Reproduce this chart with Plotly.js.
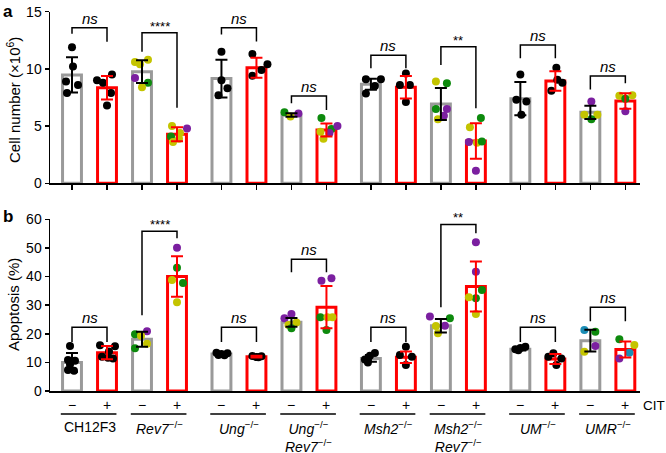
<!DOCTYPE html>
<html>
<head>
<meta charset="utf-8">
<script src="https://cdn.plot.ly/plotly-3.0.1.min.js"></script>
<style>html,body{margin:0;padding:0;background:#fff;}#chart{width:666px;height:453px;}</style>
</head>
<body>
<div id="chart"></div>
<script>
// ---------- DATA ----------
const groupLabels = ['CH12F3', '<i>Rev7</i><sup>−/−</sup>', '<i>Ung</i><sup>−/−</sup>',
  '<i>Ung</i><sup>−/−</sup><br><i>Rev7</i><sup>−/−</sup>', '<i>Msh2</i><sup>−/−</sup>',
  '<i>Msh2</i><sup>−/−</sup><br><i>Rev7</i><sup>−/−</sup>', '<i>UM</i><sup>−/−</sup>', '<i>UMR</i><sup>−/−</sup>'];
const citLabels = ['−', '+'];

// Panel a: cell number (x10^6), bars in order (group1 −, group1 +, group2 −, ...)
const cellMean = [9.47, 8.36, 9.76, 4.28, 9.15, 10.1, 5.97, 4.66, 8.65, 8.4, 6.93, 3.7, 7.4, 8.94, 6.2, 7.2];
const cellSD   = [1.54, 1.03, 0.99, 0.61, 1.65, 0.87, 0.15, 0.57, 0.48, 0.98, 1.4, 1.56, 1.45, 0.85, 0.58, 0.68];
const cellPts = [
  [11.9, 10.2, 8.9, 8.6, 7.9],
  [9.0, 8.8, 9.5, 7.9, 6.8],
  [10.6, 10.4, 10.8, 9.2, 8.8, 8.4],
  [5.0, 4.8, 4.1, 4.4, 3.6, 3.9],
  [11.5, 9.0, 8.3, 7.7],
  [11.3, 10.4, 9.9, 9.4],
  [6.2, 5.85, 6.1],
  [5.7, 4.5, 3.9, 4.75, 5.0, 4.4],
  [9.1, 9.1, 8.5, 7.85],
  [9.6, 8.6, 8.6, 7.1],
  [8.9, 8.75, 6.5, 6.5, 5.9, 5.6],
  [5.7, 4.9, 3.6, 3.55, 3.65, 1.1],
  [9.5, 7.3, 7.15, 6.0],
  [10.1, 9.05, 8.8, 8.1],
  [7.15, 6.0, 6.0, 5.6],
  [7.65, 7.7, 7.4, 6.3]
];
const cellClone = [
  ['k','k','k','k','k'], ['k','k','k','k','k'],
  ['y','y','y','p','g','y'], ['y','p','g','y','y','y'],
  ['k','k','k','k'], ['k','k','k','k'],
  ['g','y','p'], ['g','y','y','g','p','p'],
  ['k','k','k','k'], ['k','k','k','k'],
  ['y','g','g','p','p','y'], ['g','y','p','y','g','p'],
  ['k','k','k','k'], ['k','k','k','k'],
  ['p','y','y','g'], ['y','y','g','p']
];

// Panel b: apoptosis (%)
const apoMean = [10.0, 13.4, 18.1, 40.0, 12.9, 12.0, 24.0, 29.3, 11.4, 11.8, 22.8, 36.5, 14.6, 11.2, 17.6, 14.5];
const apoSD   = [3.3, 2.3, 2.6, 7.1, 0.5, 0.3, 1.55, 7.4, 1.2, 2.0, 2.35, 8.75, 0.45, 1.75, 3.8, 2.8];
const apoPts = [
  [15.7, 10.8, 10.6, 9.3, 7.3, 7.1],
  [16.0, 15.6, 13.8, 12.0, 11.6, 11.4],
  [20.9, 19.8, 19.3, 16.5, 14.9],
  [50.1, 43.1, 38.8, 37.7, 31.0],
  [13.4, 13.2, 12.9, 12.6, 12.5],
  [12.2, 12.1, 11.9, 11.8],
  [25.4, 26.9, 23.9, 23.1, 21.9],
  [38.5, 39.4, 25.8, 25.8, 25.8, 21.3],
  [13.3, 12.3, 11.0, 10.0],
  [15.5, 12.6, 12.0, 9.1],
  [26.0, 25.4, 22.7, 22.8, 20.2],
  [52.0, 41.7, 35.3, 32.4, 32.8, 26.9],
  [14.6, 15.0, 15.5, 14.2],
  [13.2, 12.0, 11.4, 9.1],
  [21.3, 20.7, 15.7, 13.7],
  [18.1, 16.1, 13.4, 11.4]
];
const apoClone = [
  ['k','k','k','k','k','k'], ['k','k','k','k','k','k'],
  ['p','g','y','y','g'], ['p','g','y','g','y'],
  ['k','k','k','k','k'], ['k','k','k','k'],
  ['p','p','y','y','g'], ['p','p','g','y','y','g'],
  ['k','k','k','k'], ['k','k','k','k'],
  ['p','g','y','p','y'], ['p','p','g','g','y','y'],
  ['k','k','k','k'], ['k','k','k','k'],
  ['t','g','p','y'], ['g','y','t','p']
];

// Significance brackets (per pair): label, bracket height, left leg end, right leg end
const sigLabelA = ['ns', '****', 'ns', 'ns', 'ns', '**', 'ns', 'ns'];
const sigBarA   = [13.6, 13.15, 13.6, 7.63, 11.2, 11.94, 12.09, 9.38];
const sigLeftA  = [13.07, 11.5, 13.0, 7.0, 10.05, 10.34, 10.93, 8.2];
const sigRightA = [12.37, 6.6, 12.4, 6.4, 10.05, 6.55, 10.93, 8.74];
const sigLabelB = ['ns', '****', 'ns', 'ns', 'ns', '**', 'ns', 'ns'];
const sigBarB   = [22.3, 55.8, 22.3, 46.0, 22.3, 58.2, 22.3, 29.3];
const sigLeftB  = [17.1, 26.5, 17.1, 41.5, 17.1, 29.3, 17.1, 24.4];
const sigRightB = [17.1, 53.4, 17.1, 41.5, 17.1, 55.1, 17.1, 24.4];

// ---------- STYLE / LAYOUT ----------
const FONT = 'Arial, "Liberation Sans", Helvetica, sans-serif';
const cloneColor = {k:'#000000', y:'#c4c400', g:'#0d8a0d', p:'#7b1fa0', t:'#1b8db5'};
const GRAY = '#9a9a9a', RED = '#ff0000';
const PX = 35; // pixels per x unit
// horizontal jitter of dots (px), per bar
const jitA = [[0,1,-6,6,-5],[-10,-4,5,4,0],[-7,-2,6,-7,6,0],[-5,10,-6,3,-4,2],[0,0,6,-3],[-4,11,5,-4],[-7,-1,7],[-5,-6,-3,5,11,3],
  [-5,10,4,-5],[0,-6,4,0],[-5,6,-5,6,3,-3],[5,-6,-7,1,6,0],[0,-4,6,1],[1,2,7,-4],[1,-6,7,1],[-6,7,0,0]];
const jitB = [[-2,-4,3,-2,-4,2],[-7,8,2,-5,1,6],[5,-7,-1,5,-7],[0,0,-5,6,0],[-5,6,0,-3,3],[-4,5,0,2],[-7,0,5,-3,0],[-5,5,-6,1,6,0],
  [4,-1,-6,-3],[0,-6,6,0],[-11,9,-5,4,-3],[0,0,6,0,-7,0],[-5,0,5,-2],[-2,-7,6,1],[-6,5,5,-6],[-6,9,4,-6]];

const N = cellMean.length;
const pos = Array.from({length:N}, (_, i) => i + Math.floor(i/4) * 0.27);
const xRange = [-22/PX, -22/PX + 590/PX];
const H = 453;
const py = v => 1 - v / H; // pixel row -> paper y

function panelTraces(means, sds, pts, clones, jit, xa, ya) {
  const even = [], odd = [];
  for (let i = 0; i < N; i++) (i % 2 ? odd : even).push(i);
  const traces = [];
  [[even, GRAY], [odd, RED]].forEach(([idx, lc]) => {
    traces.push({type:'bar', x: idx.map(i => pos[i]), y: idx.map(i => means[i]), width: 0.54,
      marker:{color:'#ffffff', line:{color: lc, width: 3}}, xaxis: xa, yaxis: ya, hoverinfo:'skip', showlegend:false});
  });
  const dx = [], dy = [], dc = [];
  pts.forEach((arr, i) => arr.forEach((v, j) => {
    dx.push(pos[i] + jit[i][j] / PX); dy.push(v); dc.push(cloneColor[clones[i][j]]);
  }));
  traces.push({type:'scatter', mode:'markers', x: dx, y: dy, marker:{color: dc, size: 8, line:{width:0}},
    xaxis: xa, yaxis: ya, hoverinfo:'skip', showlegend:false});
  [[even, '#000000'], [odd, RED]].forEach(([idx, ec]) => {
    traces.push({type:'scatter', mode:'markers', x: idx.map(i => pos[i]), y: idx.map(i => means[i]),
      marker:{size: 1, opacity: 0}, error_y:{type:'data', array: idx.map(i => sds[i]), visible: true,
      color: ec, thickness: 2, width: 6}, xaxis: xa, yaxis: ya, hoverinfo:'skip', showlegend:false});
  });
  return traces;
}

const data = [].concat(
  panelTraces(cellMean, cellSD, cellPts, cellClone, jitA, 'x', 'y'),
  panelTraces(apoMean, apoSD, apoPts, apoClone, jitB, 'x2', 'y2')
);

const shapes = [], annotations = [];
function brackets(labels, bar, left, right, xr, yr) {
  for (let k = 0; k < labels.length; k++) {
    const x0 = pos[2*k], x1 = pos[2*k+1];
    shapes.push({type:'path', xref: xr, yref: yr,
      path: `M ${x0} ${left[k]} L ${x0} ${bar[k]} L ${x1} ${bar[k]} L ${x1} ${right[k]}`,
      line:{color:'#000', width:1.5}});
    const star = labels[k] !== 'ns';
    annotations.push({xref: xr, yref: yr, x: (x0 + x1) / 2, y: bar[k], yanchor:'bottom', showarrow:false,
      text: star ? labels[k] : '<i>ns</i>', yshift: star ? -3 : -1,
      font:{family: FONT, size: star ? 13 : 15, color:'#000'}});
  }
}
brackets(sigLabelA, sigBarA, sigLeftA, sigRightA, 'x', 'y');
brackets(sigLabelB, sigBarB, sigLeftB, sigRightB, 'x2', 'y2');

// CIT −/+ labels, pair underlines, group labels
for (let i = 0; i < N; i++) {
  annotations.push({xref:'x2', yref:'paper', x: pos[i], y: py(405), yanchor:'middle', showarrow:false,
    text: citLabels[i % 2], font:{family: FONT, size: 14, color:'#000'}});
}
groupLabels.forEach((g, k) => {
  const x0 = pos[2*k], x1 = pos[2*k+1];
  shapes.push({type:'line', xref:'x2', yref:'paper', x0: x0 - 0.32, x1: x1 + 0.27, y0: py(414), y1: py(414),
    line:{color:'#000', width:1.5}});
  annotations.push({xref:'x2', yref:'paper', x: (x0 + x1) / 2, y: py(417), yanchor:'top', showarrow:false,
    text: g, font:{family: FONT, size: 14, color:'#000'}});
});
annotations.push({xref:'paper', yref:'paper', x: (641-50)/590, y: py(405), xanchor:'left', yanchor:'middle',
  showarrow:false, text:'CIT', font:{family: FONT, size: 13.5, color:'#000'}});

// panel letters and y titles
annotations.push({xref:'paper', yref:'paper', x: (1-50)/590, y: py(0), xanchor:'left', yanchor:'top', showarrow:false,
  text:'<b>a</b>', font:{family: FONT, size: 17, color:'#000'}});
annotations.push({xref:'paper', yref:'paper', x: (1-50)/590, y: py(205), xanchor:'left', yanchor:'top', showarrow:false,
  text:'<b>b</b>', font:{family: FONT, size: 17, color:'#000'}});
annotations.push({xref:'paper', yref:'paper', x: (13-50)/590, y: py(100), xanchor:'center', yanchor:'middle',
  textangle:-90, showarrow:false,
  text:'Cell number (×10<sup>6</sup>)', font:{family: FONT, size: 15, color:'#000'}});
annotations.push({xref:'paper', yref:'paper', x: (13-50)/590, y: py(305), xanchor:'center', yanchor:'middle',
  textangle:-90, showarrow:false,
  text:'Apoptosis (%)', font:{family: FONT, size: 15, color:'#000'}});

const axBase = {showline:true, linecolor:'#000', linewidth:1.5, showgrid:false, zeroline:false,
  tickfont:{family: FONT, size: 14, color:'#000'}, tickcolor:'#000', tickwidth:1.5, fixedrange:true};

const layout = {
  width: 666, height: 453, margin:{l:50, r:26, t:0, b:0, pad:0},
  paper_bgcolor:'#fff', plot_bgcolor:'#fff', showlegend:false, barmode:'overlay',
  font:{family: FONT, color:'#000'},
  xaxis: Object.assign({}, axBase, {domain:[0,1], range: xRange, anchor:'y', ticks:'outside', ticklen:5,
    tickmode:'array', tickvals: pos, showticklabels:false}),
  yaxis: Object.assign({}, axBase, {domain:[1-183.3/H, 1-11.7/H], range:[0,15], anchor:'x', ticks:'outside', ticklen:4,
    tickvals:[0,5,10,15]}),
  xaxis2: Object.assign({}, axBase, {domain:[0,1], range: xRange, anchor:'y2', ticks:'', showticklabels:false}),
  yaxis2: Object.assign({}, axBase, {domain:[1-391/H, 1-219.3/H], range:[0,60], anchor:'x2', ticks:'outside', ticklen:4,
    tickvals:[0,10,20,30,40,50,60]}),
  shapes: shapes, annotations: annotations
};

Plotly.newPlot('chart', data, layout, {displayModeBar:false, staticPlot:true});
</script>
</body>
</html>
